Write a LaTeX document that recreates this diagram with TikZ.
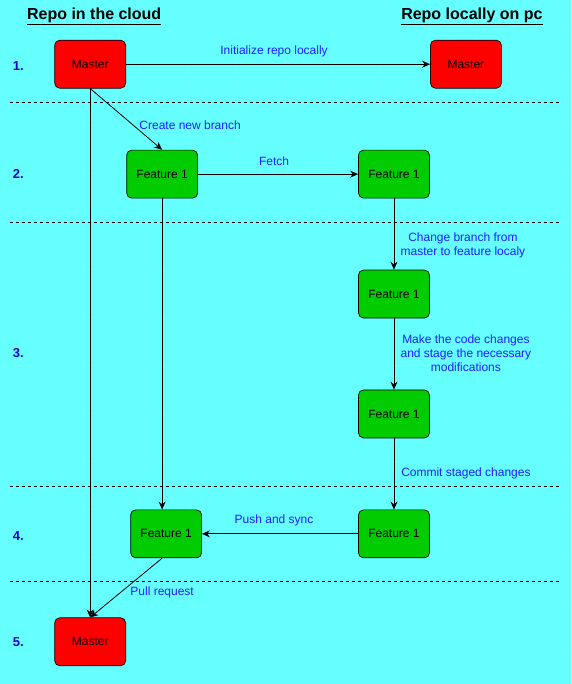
\documentclass[tikz,border=0pt]{standalone}
\usepackage{fontspec}
\setmainfont{Liberation Sans}
\definecolor{mycyan}{RGB}{102,255,255}
\definecolor{mygrid}{RGB}{150,240,240}
\definecolor{myred}{RGB}{255,0,0}
\definecolor{mygreen}{RGB}{0,204,0}
\definecolor{mytext}{RGB}{30,30,255}
\definecolor{mynum}{RGB}{0,0,204}
\usetikzlibrary{positioning,arrows.meta}

\begin{document}
\begin{tikzpicture}[x=1pt,y=-1pt,
    line width=0.8pt,
    every node/.style={font=\fontsize{12}{14}\selectfont},
    box/.style={draw,rounded corners=5pt,minimum width=71pt,minimum height=48pt,line width=0.7pt},
    mnode/.style={box,fill=myred},
    fnode/.style={box,fill=mygreen},
    lbl/.style={text=mytext,align=center,inner sep=0pt},
    num/.style={text=mynum,font=\fontsize{13}{15}\selectfont\bfseries},
    head/.style={font=\fontsize{16}{18}\selectfont\bfseries},
    sep/.style={dashed,dash pattern=on 3pt off 3pt,line width=0.7pt},
    arr/.style={-{Stealth[length=8pt,width=7pt]}},
    node distance=120pt
    ]
    \fill[mycyan] (0,0) rectangle (571,684);
    \foreach \x in {45,93,...,571} \draw[mygrid,line width=0.5pt] (\x,0) -- (\x,684);
    \foreach \y in {29,77,...,684} \draw[mygrid,line width=0.5pt] (0,\y) -- (571,\y);

    \node (hcloud) [head] at (94,16) {\underline{Repo in the cloud}};
    \node (hlocal) [head] at (472,16) {\underline{Repo locally on pc}};

    \node (n1) [num] at (18,66) {1.};
    \node (n2) [num] at (18,174) {2.};
    \node (n3) [num] at (18,353) {3.};
    \node (n4) [num] at (18,536) {4.};
    \node (n5) [num] at (18,642) {5.};

    \draw[sep] (10,102) -- (561,102);
    \draw[sep] (10,222) -- (561,222);
    \draw[sep] (10,486) -- (561,486);
    \draw[sep] (10,582) -- (561,582);

    \node (m1) [mnode] at (90,64) {Master};
    \node (m1l) [mnode] at (466,64) {Master};
    \node (f2) [fnode] at (162,174) {Feature 1};
    \node (f2l) [fnode] at (394,174) {Feature 1};
    \node (f3l) [fnode,below of=f2l] {Feature 1};
    \node (f3m) [fnode,below of=f3l] {Feature 1};
    \node (f4l) [fnode,below of=f3m] {Feature 1};
    \node (f4) [fnode] at (166,534) {Feature 1};
    \node (m5) [mnode] at (90,642) {Master};

    \node (tinit) [lbl] at (274,51) {Initialize repo locally};
    \node (tnew) [lbl] at (190,125) {Create new branch};
    \node (tfetch) [lbl] at (274,161) {Fetch};
    \node (tchange) [lbl] at (463,245) {Change branch from\\master to feature localy};
    \node (tmake) [lbl] at (466,353) {Make the code changes\\and stage the necessary\\modifications};
    \node (tcommit) [lbl] at (466,473) {Commit staged changes};
    \node (tpush) [lbl] at (274,521) {Push and sync};
    \node (tpull) [lbl] at (162,593) {Pull request};

    % the edges
    \draw[arr] (m1) -- (m1l);
    \draw[arr] (m1.south) -- (f2.north);
    \draw[arr] (m1.south) -- (m5.north);
    \draw[arr] (f2) -- (f2l);
    \draw[arr] (f2.south) -- (f2.south |- f4.north);
    \draw[arr] (f2l) -- (f3l);
    \draw[arr] (f3l) -- (f3m);
    \draw[arr] (f3m) -- (f4l);
    \draw[arr] (f4l) -- (f4);
    \draw[arr] (f4.south -| f2.south) -- (m5.north);
\end{tikzpicture}
\end{document}
